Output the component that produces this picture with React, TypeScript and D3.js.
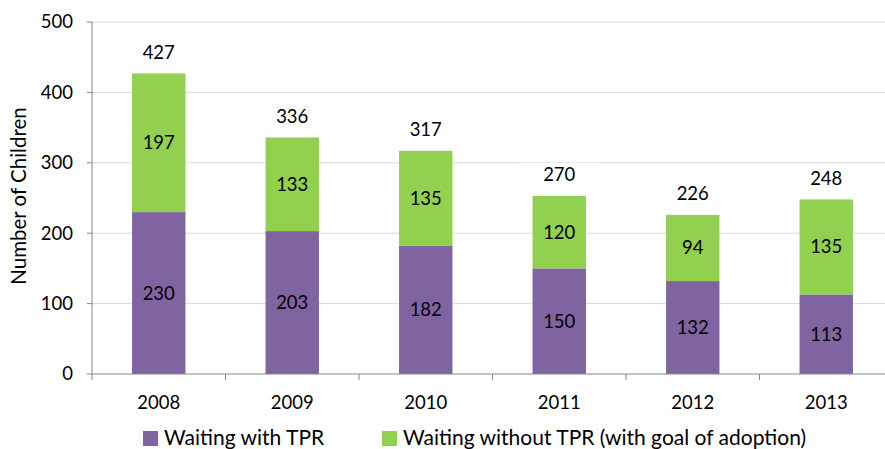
import React from "react";
import * as d3 from "d3";

const years = ["2008", "2009", "2010", "2011", "2012", "2013"];
const withTPR = [230, 203, 182, 150, 132, 113];
// bar heights as drawn in the picture (2011 segment drawn shorter than its label)
const withoutTPR = [197, 133, 135, 103, 94, 135];
const withTPRLabels = ["230", "203", "182", "150", "132", "113"];
const withoutTPRLabels = ["197", "133", "135", "120", "94", "135"];
const totalLabels = ["427", "336", "317", "270", "226", "248"];
const yTicks = [0, 100, 200, 300, 400, 500];
const seriesNames = ["Waiting with TPR", "Waiting without TPR (with goal of adoption)"];
const colors = ["#8064A2", "#92D050"];

const W = 885, H = 449;
const FONT = "Lato, 'Open Sans', sans-serif";
const NUM = 18.5;

export default function App() {
  const x = d3.scaleBand<string>().domain(years).range([92, 893]).paddingInner(0.6).paddingOuter(0.3);
  const step = x.step();
  const x0 = 92;
  const y = d3.scaleLinear().domain([0, 500]).range([374, 22]);
  const bw = x.bandwidth();
  return (
    <svg width={W} height={H} style={{ position: "absolute", left: 0, top: 0, background: "#fff" }} fontFamily={FONT}>
      {yTicks.slice(1).map(t => (
        <line key={"g" + t} x1={x0} x2={W} y1={y(t)} y2={y(t)} stroke="#d9d9d9" strokeWidth={1} />
      ))}
      {years.map((yr, i) => {
        const cx = x(yr)! + bw / 2;
        const topY = y(withTPR[i] + withoutTPR[i]);
        return (
          <g key={yr}>
            <rect x={x(yr)} y={y(withTPR[i])} width={bw} height={y(0) - y(withTPR[i])} fill={colors[0]} />
            <rect x={x(yr)} y={topY} width={bw} height={y(withTPR[i]) - topY} fill={colors[1]} />
            <text x={cx} y={(y(0) + y(withTPR[i])) / 2} dy="0.35em" textAnchor="middle" fontSize={NUM} fill="#000">{withTPRLabels[i]}</text>
            <text x={cx} y={(y(withTPR[i]) + topY) / 2} dy="0.35em" textAnchor="middle" fontSize={NUM} fill="#000">{withoutTPRLabels[i]}</text>
            <rect x={cx - 41} y={topY - 33} width={82} height={24} fill="#fff" />
            <text x={cx} y={topY - 21} dy="0.35em" textAnchor="middle" fontSize={NUM} fill="#000">{totalLabels[i]}</text>
          </g>
        );
      })}
      {/* y axis */}
      <line x1={x0} x2={x0} y1={y(500)} y2={y(0) + 6} stroke="#868686" />
      {yTicks.map(t => (
        <g key={"t" + t}>
          <line x1={x0 - 5} x2={x0} y1={y(t)} y2={y(t)} stroke="#868686" />
          <text x={73} y={y(t)} dy="0.35em" textAnchor="end" fontSize={NUM} fill="#000">{t}</text>
        </g>
      ))}
      {/* x axis */}
      <line x1={x0} x2={W} y1={y(0)} y2={y(0)} stroke="#868686" />
      {years.map((yr, i) => (
        <line key={"xt" + yr} x1={x0 + step * (i + 1)} x2={x0 + step * (i + 1)} y1={y(0)} y2={y(0) + 6} stroke="#868686" />
      ))}
      {years.map(yr => (
        <text key={"xl" + yr} x={x(yr)! + bw / 2} y={403} dy="0.35em" textAnchor="middle" fontSize={NUM} fill="#000">{yr}</text>
      ))}
      <text transform={`translate(19,${y(250) - 2}) rotate(-90)`} dy="0.35em" textAnchor="middle" fontSize={20.5} fill="#000">Number of Children</text>
      {/* legend */}
      <rect x={143} y={431} width={15} height={15} fill={colors[0]} />
      <text x={164} y={444.5} fontSize={21} fill="#000">{seriesNames[0]}</text>
      <rect x={382} y={431} width={15} height={15} fill={colors[1]} />
      <text x={403} y={444.5} fontSize={21} fill="#000">{seriesNames[1]}</text>
    </svg>
  );
}
